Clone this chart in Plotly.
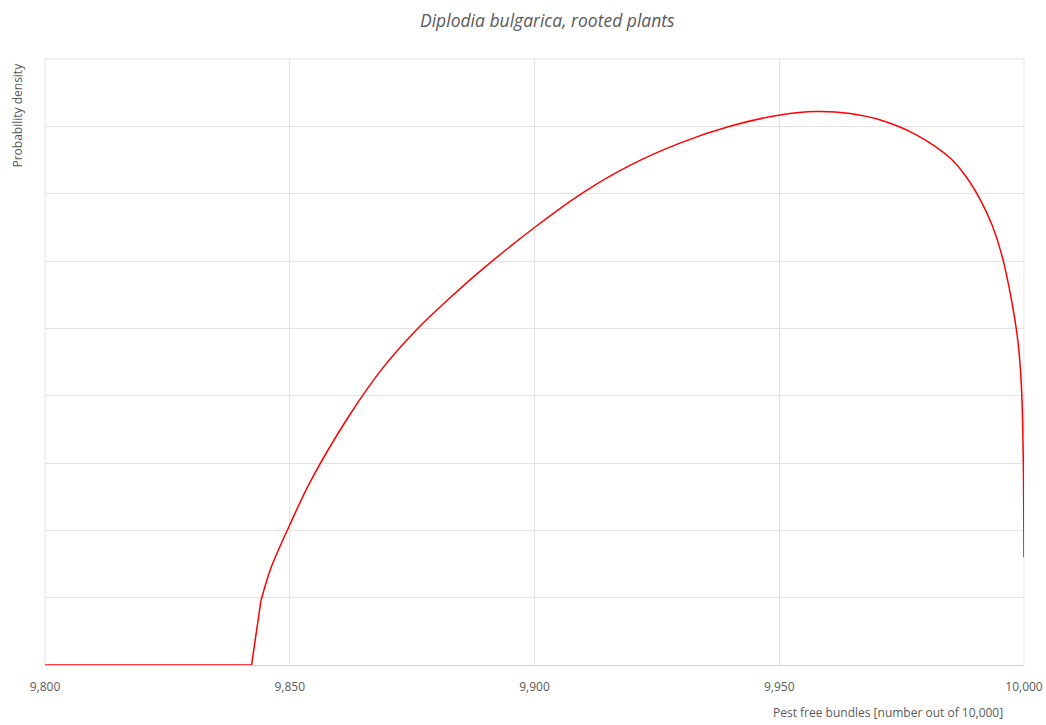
import plotly.graph_objects as go

# Data (density in arbitrary units = gridline units)
# Flat part and the steep step at the lower bound
step_x = [9800.0, 9842.2, 9844.1]
step_y = [0.0, 0.0, 0.95]
# Smooth curved part
pest_free = [9844.1, 9846.0, 9848.0, 9850.0, 9854.1, 9862.3, 9869.1, 9875.9,
             9882.7, 9888.9, 9900.4, 9910.0, 9919.5, 9929.7, 9939.9, 9950.2, 9957.6,
             9964.5, 9971.3, 9978.1, 9984.9, 9988.0, 9991.0, 9993.5, 9995.5, 9997.5,
             9998.8, 9999.5, 9999.85, 10000.0]
density = [0.95, 1.41, 1.76, 2.08, 2.71, 3.72, 4.42, 4.98,
           5.45, 5.85, 6.52, 7.02, 7.42, 7.75, 8.00, 8.17, 8.22,
           8.19, 8.08, 7.87, 7.53, 7.27, 6.92, 6.53, 6.08, 5.40,
           4.78, 4.10, 3.05, 1.60]

x_ticks = [9800, 9850, 9900, 9950, 10000]
x_tick_labels = ["9,800", "9,850", "9,900", "9,950", "10,000"]

title_text = "Diplodia bulgarica, rooted plants"
x_title = "Pest free bundles [number out of 10,000]"
y_title = "Probability density"

FONT = "Open Sans, Segoe UI, sans-serif"
GREY = "#595959"
GRID = "#e3e3e3"

fig = go.Figure()
fig.add_trace(go.Scatter(x=step_x, y=step_y, mode="lines",
                         line=dict(color="#ff0000", width=1.5),
                         hoverinfo="x+y", showlegend=False))
fig.add_trace(go.Scatter(x=pest_free, y=density, mode="lines",
                         line=dict(color="#ff0000", width=1.5, shape="spline", smoothing=1.0),
                         hoverinfo="x+y", showlegend=False))

# body margin is removed by post_script, so figure coordinates = screenshot coordinates
W, H = 1046, 725
L, T = 45, 59
R = W - 1024
B = H - 665
pw = W - L - R
ph = H - T - B

fig.update_layout(
    width=W, height=H,
    paper_bgcolor="white", plot_bgcolor="white",
    margin=dict(l=L, r=R, t=T, b=B, pad=0, autoexpand=False),
    font=dict(family=FONT, color=GREY, size=12),
    showlegend=False,
)

fig.update_xaxes(
    range=[9800, 10000], tickvals=x_ticks, ticktext=x_tick_labels,
    showgrid=True, gridcolor=GRID, gridwidth=1,
    zeroline=False, showline=True, linecolor="#d4d4d4", linewidth=1,
    layer="below traces", ticks="", ticklabelstandoff=11,
    ticklabeloverflow="allow", automargin=False,
    tickfont=dict(size=12, color=GREY, family=FONT),
)
fig.update_yaxes(
    range=[0, 9], dtick=1, showticklabels=False,
    showgrid=True, gridcolor=GRID, gridwidth=1,
    zeroline=False, showline=False, ticks="", layer="below traces", automargin=False,
)

for x0, x1, y0, y1 in [(0, 1, 1, 1), (0, 0, 0, 1), (1, 1, 0, 1)]:
    fig.add_shape(type="line", xref="paper", yref="paper", x0=x0, x1=x1, y0=y0, y1=y1,
                  line=dict(color=GRID, width=1), layer="below")

fig.add_annotation(text=f"<i>{title_text}</i>", xref="paper", yref="paper",
                   x=(547.5 - L) / pw, y=1 + (T - 20) / ph, xanchor="center", yanchor="middle",
                   showarrow=False, font=dict(size=17.5, color=GREY, family=FONT))
fig.add_annotation(text=y_title, xref="paper", yref="paper",
                   x=(17 - L) / pw, y=1 + (T - 61) / ph, xanchor="center", yanchor="top",
                   textangle=-90, showarrow=False, font=dict(size=12, color=GREY, family=FONT))
fig.add_annotation(text=x_title, xref="paper", yref="paper",
                   x=(1005 - L) / pw, y=-(712 - (T + ph)) / ph, xanchor="right", yanchor="middle",
                   showarrow=False, font=dict(size=12, color=GREY, family=FONT))

fig.write_html("out.html", config={"displayModeBar": False},
               post_script="document.body.style.margin='0';")
